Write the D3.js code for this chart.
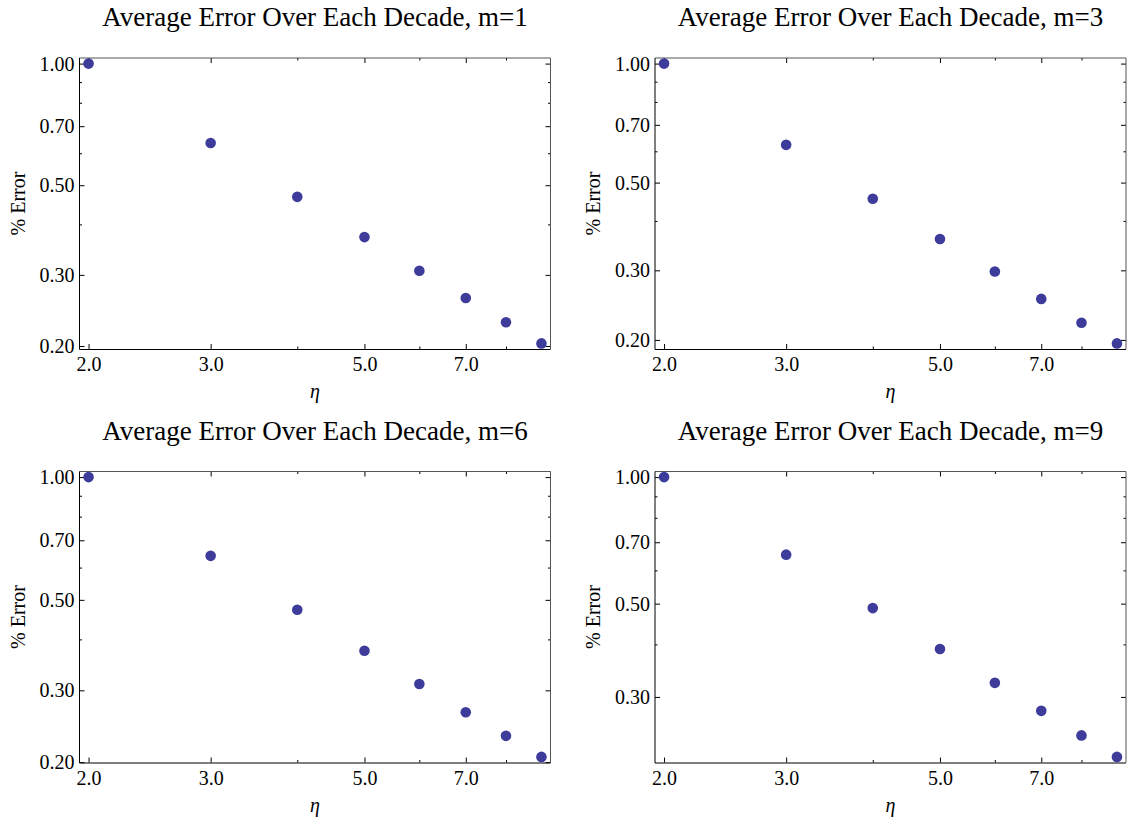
<!DOCTYPE html>
<html>
<head>
<meta charset="utf-8">
<script src="https://cdn.jsdelivr.net/npm/d3@7"></script>
<style>
  html, body { margin: 0; padding: 0; background: #ffffff; }
  svg { display: block; }
  .tick text { font-family: "Liberation Serif", "Times New Roman", serif; font-size: 20px; fill: #000; }
  .tick line { stroke: #000; stroke-width: 1; }
</style>
</head>
<body>
<svg id="chart" width="1132" height="825"></svg>
<script>
// eta values (x) shared by every panel
const eta = [2, 3, 4, 5, 6, 7, 8, 9];

// average % error per decade, one series per m
const errM1 = [1.00, 0.636, 0.468, 0.372, 0.307, 0.263, 0.229, 0.203];
const errM3 = [1.00, 0.623, 0.455, 0.360, 0.298, 0.254, 0.221, 0.196];
const errM6 = [1.00, 0.641, 0.473, 0.375, 0.311, 0.265, 0.232, 0.206];
const errM9 = [1.00, 0.654, 0.488, 0.390, 0.324, 0.278, 0.243, 0.216];

const mValues = [1, 3, 6, 9];

// tick values
const xMajorTicks = [2, 3, 5, 7];
const xMinorTicks = [4, 6, 8];
const yMajorTicks = [0.2, 0.3, 0.5, 0.7, 1.0];
const yMinorTicks = [0.4, 0.6, 0.8, 0.9];

const series = [errM1, errM3, errM6, errM9];

// frame placement of each panel
const W = 471, H = 291;
const frames = [
  { left: 79.5, top: 58 },
  { left: 655,  top: 58 },
  { left: 79.5, top: 471.5 },
  { left: 655,  top: 471.5 }
];

const dotColor = "#3d3c9b";
const serif = '"Liberation Serif", "Times New Roman", serif';

// log-space padding of 2% on each side of the data range
function padLog(lo, hi, f) {
  const a = Math.log(lo), b = Math.log(hi), r = b - a;
  return [Math.exp(a - f * r), Math.exp(b + f * r)];
}

const svg = d3.select("#chart");
svg.append("rect").attr("width", 1132).attr("height", 825).attr("fill", "#fff");

series.forEach((vals, i) => {
  const fr = frames[i];
  const g = svg.append("g").attr("transform", `translate(${fr.left},${fr.top})`);

  const x = d3.scaleLog()
    .domain(padLog(d3.min(eta), d3.max(eta), 0.02))
    .range([0, W]);
  const y = d3.scaleLog()
    .domain(padLog(d3.min(vals), d3.max(vals), 0.02))
    .range([H, 0]);

  const [y0, y1] = y.domain();
  const inY = v => v >= y0 && v <= y1;
  const yMaj = yMajorTicks.filter(inY);
  const yMin = yMinorTicks.filter(inY);

  // bottom axis: labelled major ticks plus short minor ticks, all pointing inward
  g.append("g").attr("transform", `translate(0,${H})`)
    .call(d3.axisBottom(x).tickValues(xMajorTicks).tickSize(-5).tickPadding(8)
      .tickFormat(d3.format(".1f")))
    .call(a => a.select(".domain").remove());
  g.append("g").attr("transform", `translate(0,${H})`)
    .call(d3.axisBottom(x).tickValues(xMinorTicks).tickSize(-2.5).tickFormat(""))
    .call(a => a.select(".domain").remove());

  // top axis mirrors the ticks without labels
  g.append("g")
    .call(d3.axisTop(x).tickValues(xMajorTicks).tickSize(-5).tickFormat(""))
    .call(a => a.select(".domain").remove());
  g.append("g")
    .call(d3.axisTop(x).tickValues(xMinorTicks).tickSize(-2.5).tickFormat(""))
    .call(a => a.select(".domain").remove());

  // left axis
  g.append("g")
    .call(d3.axisLeft(y).tickValues(yMaj).tickSize(-5).tickPadding(5)
      .tickFormat(d3.format(".2f")))
    .call(a => a.select(".domain").remove());
  g.append("g")
    .call(d3.axisLeft(y).tickValues(yMin).tickSize(-2.5).tickFormat(""))
    .call(a => a.select(".domain").remove());

  // right axis mirrors the ticks without labels
  g.append("g").attr("transform", `translate(${W},0)`)
    .call(d3.axisRight(y).tickValues(yMaj).tickSize(-5).tickFormat(""))
    .call(a => a.select(".domain").remove());
  g.append("g").attr("transform", `translate(${W},0)`)
    .call(d3.axisRight(y).tickValues(yMin).tickSize(-2.5).tickFormat(""))
    .call(a => a.select(".domain").remove());

  // frame
  g.append("line").attr("x1", 0).attr("x2", W).attr("y1", 0).attr("y2", 0)
    .attr("stroke", "#555").attr("stroke-width", 1);
  g.append("line").attr("x1", W).attr("x2", W).attr("y1", 0).attr("y2", H)
    .attr("stroke", "#555").attr("stroke-width", 1);
  g.append("line").attr("x1", 0).attr("x2", 0).attr("y1", 0).attr("y2", H + 0.5)
    .attr("stroke", "#000").attr("stroke-width", 1);
  g.append("line").attr("x1", 0).attr("x2", W).attr("y1", H + 0.5).attr("y2", H + 0.5)
    .attr("stroke", "#000").attr("stroke-width", 1);

  // data points
  g.selectAll("circle.pt")
    .data(eta.map((e, k) => ({ e, v: vals[k] })))
    .join("circle")
    .attr("class", "pt")
    .attr("cx", d => x(d.e))
    .attr("cy", d => y(d.v))
    .attr("r", 5.3)
    .attr("fill", dotColor);

  // title
  g.append("text")
    .attr("x", W / 2).attr("y", -32)
    .attr("text-anchor", "middle")
    .attr("font-family", serif).attr("font-size", 27)
    .text(`Average Error Over Each Decade, m=${mValues[i]}`);

  // axis labels
  g.append("text")
    .attr("transform", `translate(-55,${H / 2}) rotate(-90)`)
    .attr("text-anchor", "middle")
    .attr("font-family", serif).attr("font-size", 20)
    .text("% Error");
  g.append("text")
    .attr("x", W / 2).attr("y", H + 49)
    .attr("text-anchor", "middle")
    .attr("font-family", serif).attr("font-size", 20).attr("font-style", "italic")
    .text("η");
});
</script>
</body>
</html>
